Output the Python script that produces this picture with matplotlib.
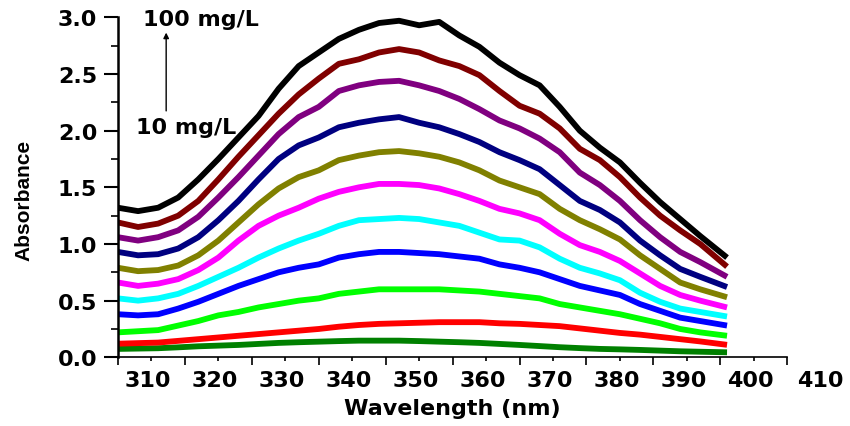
import matplotlib
matplotlib.use('Agg')
import matplotlib.pyplot as plt
import matplotlib.transforms as mtransforms
import numpy as np

# wavelengths (nm) the curves were read at
wavelength = list(range(305, 393, 3)) + [396]

# absorbance, highest concentration (100 mg/L) first
abs_100 = [1.32, 1.29, 1.32, 1.41, 1.57, 1.75, 1.94, 2.13, 2.37, 2.57, 2.69, 2.81, 2.89, 2.95, 2.97,
           2.93, 2.96, 2.84, 2.74, 2.60, 2.49, 2.40, 2.21, 2.00, 1.85, 1.72, 1.54, 1.37, 1.22, 1.07, 0.88]
abs_90 = [1.19, 1.15, 1.18, 1.25, 1.38, 1.57, 1.77, 1.96, 2.15, 2.32, 2.46, 2.59, 2.63, 2.69, 2.72,
          2.69, 2.62, 2.57, 2.49, 2.35, 2.22, 2.15, 2.02, 1.84, 1.74, 1.59, 1.41, 1.25, 1.12, 1.00, 0.80]
abs_80 = [1.06, 1.03, 1.06, 1.12, 1.24, 1.41, 1.59, 1.78, 1.97, 2.12, 2.21, 2.35, 2.40, 2.43, 2.44,
          2.40, 2.35, 2.28, 2.19, 2.09, 2.02, 1.93, 1.81, 1.63, 1.52, 1.38, 1.21, 1.06, 0.93, 0.84, 0.71]
abs_70 = [0.93, 0.90, 0.91, 0.96, 1.06, 1.21, 1.38, 1.57, 1.75, 1.87, 1.94, 2.03, 2.07, 2.10, 2.12,
          2.07, 2.03, 1.97, 1.90, 1.81, 1.74, 1.66, 1.52, 1.38, 1.30, 1.19, 1.03, 0.90, 0.78, 0.71, 0.62]
abs_60 = [0.79, 0.76, 0.77, 0.81, 0.90, 1.03, 1.19, 1.35, 1.49, 1.59, 1.65, 1.74, 1.78, 1.81, 1.82,
          1.80, 1.77, 1.72, 1.65, 1.56, 1.50, 1.44, 1.31, 1.21, 1.13, 1.04, 0.90, 0.78, 0.66, 0.60, 0.53]
abs_50 = [0.66, 0.63, 0.65, 0.69, 0.77, 0.88, 1.03, 1.16, 1.25, 1.32, 1.40, 1.46, 1.50, 1.53, 1.53,
          1.52, 1.49, 1.44, 1.38, 1.31, 1.27, 1.21, 1.09, 0.99, 0.93, 0.85, 0.74, 0.63, 0.55, 0.50, 0.44]
abs_40 = [0.52, 0.50, 0.52, 0.56, 0.63, 0.71, 0.79, 0.88, 0.96, 1.03, 1.09, 1.16, 1.21, 1.22, 1.23,
          1.22, 1.19, 1.16, 1.10, 1.04, 1.03, 0.97, 0.87, 0.79, 0.74, 0.68, 0.57, 0.49, 0.43, 0.40, 0.36]
abs_30 = [0.38, 0.37, 0.38, 0.43, 0.49, 0.56, 0.63, 0.69, 0.75, 0.79, 0.82, 0.88, 0.91, 0.93, 0.93,
          0.92, 0.91, 0.89, 0.87, 0.82, 0.79, 0.75, 0.69, 0.63, 0.59, 0.55, 0.47, 0.41, 0.35, 0.32, 0.28]
abs_20 = [0.22, 0.23, 0.24, 0.28, 0.32, 0.37, 0.40, 0.44, 0.47, 0.50, 0.52, 0.56, 0.58, 0.60, 0.60,
          0.60, 0.60, 0.59, 0.58, 0.56, 0.54, 0.52, 0.47, 0.44, 0.41, 0.38, 0.34, 0.30, 0.25, 0.22, 0.19]
abs_10 = [0.120, 0.125, 0.130, 0.145, 0.160, 0.175, 0.190, 0.205, 0.220, 0.235, 0.250, 0.270, 0.285, 0.295, 0.300,
          0.305, 0.310, 0.310, 0.310, 0.300, 0.295, 0.285, 0.275, 0.255, 0.235, 0.215, 0.200, 0.180, 0.160, 0.140, 0.110]
abs_5 = [0.074, 0.077, 0.080, 0.088, 0.097, 0.103, 0.109, 0.118, 0.127, 0.133, 0.138, 0.143, 0.147, 0.147, 0.147,
         0.143, 0.138, 0.133, 0.127, 0.118, 0.109, 0.099, 0.089, 0.081, 0.074, 0.070, 0.065, 0.059, 0.053, 0.049, 0.044]

series = [abs_100, abs_90, abs_80, abs_70, abs_60, abs_50, abs_40, abs_30, abs_20, abs_10, abs_5]
colors = ['#000000', '#800000', '#800080', '#000080', '#808000', '#FF00FF',
          '#00FFFF', '#0000FF', '#00FF00', '#FF0000', '#008000']

x_ticklabels = [310, 320, 330, 340, 350, 360, 370, 380, 390, 400]

fig = plt.figure(figsize=(8.5, 4.27), dpi=100)
ax = fig.add_axes([0.1388, 0.1609, 0.9262 - 0.1388, 0.957 - 0.1609])

# draw lowest first so the upper curves sit on top
for y, c in reversed(list(zip(series, colors))):
    ax.plot(wavelength, y, color=c, lw=4.2, solid_joinstyle='round', solid_capstyle='butt')

ax.set_xlim(305, 405)
ax.set_ylim(0, 3.0)

for s in ['top', 'right']:
    ax.spines[s].set_visible(False)
ax.spines['left'].set_linewidth(1.8)
ax.spines['bottom'].set_linewidth(1.2)

bold = dict(family='DejaVu Sans', weight='bold', size=16)

# major ticks on the 5s without labels, labels sit on the minor ticks (as in the original)
ax.set_xticks(np.arange(305, 406, 10))
ax.set_xticklabels([])
ax.set_xticks(x_ticklabels, minor=True)
ax.set_xticklabels([str(v) for v in x_ticklabels], minor=True, fontdict=bold)
ax.tick_params(axis='x', which='major', length=6, width=1.2, direction='out')
ax.tick_params(axis='x', which='minor', length=3, width=1.2, direction='out', pad=6)
shift = mtransforms.ScaledTranslation(-3.5 / 100, 0, fig.dpi_scale_trans)
for lab in ax.get_xticklabels(minor=True):
    lab.set_transform(lab.get_transform() + shift)

ax.set_yticks(np.arange(0, 3.01, 0.5))
ax.set_yticklabels(['0.0', '0.5', '1.0', '1.5', '2.0', '2.5', '3.0'], fontdict=bold)
ax.set_yticks(np.arange(0.25, 3.0, 0.5), minor=True)
ax.tick_params(axis='y', which='major', length=10, width=1.5, direction='out', pad=5)
ax.tick_params(axis='y', which='minor', length=5, width=1.2, direction='out')

# the "410" label hangs past the end of the axis
off = mtransforms.ScaledTranslation(0, -(3 + 6) / 72, fig.dpi_scale_trans)
ax.text(410, 0, '410', transform=ax.get_xaxis_transform() + off,
        ha='center', va='top', clip_on=False, **bold)

ax.set_xlabel('Wavelength (nm)', fontdict=bold, labelpad=6)
fig.text(24 / 850, 1 - 200 / 427, 'Absorbance', rotation=90, ha='center', va='center',
         family=['Liberation Sans Narrow', 'Liberation Sans'], weight='bold', size=15)

ax.text(317.45, 2.986, '100 mg/L', ha='center', va='center', zorder=5, **bold)
ax.text(315.2, 2.03, '10 mg/L', ha='center', va='center', zorder=5, **bold)
ax.annotate('', xy=(312.2, 2.89), xytext=(312.2, 2.15),
            arrowprops=dict(arrowstyle='-|>', color='black', lw=1, mutation_scale=8), zorder=5)

fig.savefig('out.png', dpi=100)
